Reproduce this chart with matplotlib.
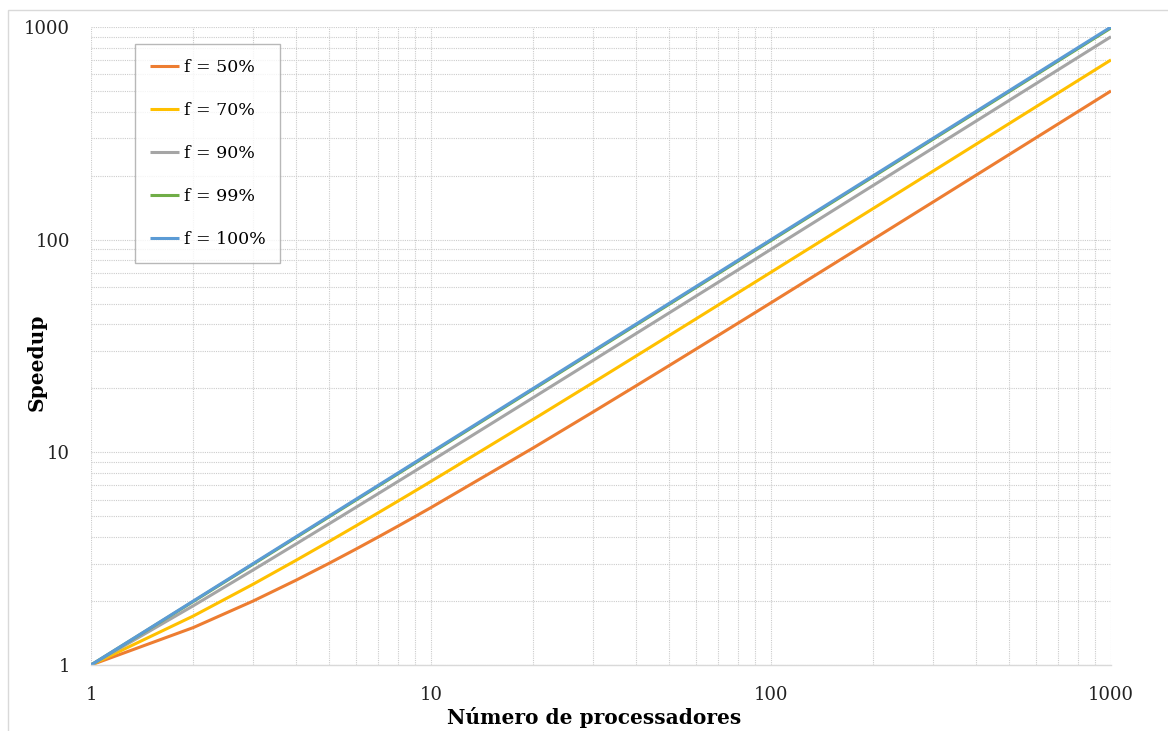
import matplotlib
matplotlib.use("Agg")
import matplotlib.pyplot as plt
from matplotlib.patches import Rectangle
from matplotlib.ticker import LogLocator, NullFormatter, FixedLocator, FixedFormatter

# Number of processors
processors = [1, 2, 3, 4, 5, 6, 7, 8, 9, 10,
              20, 30, 40, 50, 60, 70, 80, 90, 100,
              200, 300, 400, 500, 600, 700, 800, 900, 1000]

# Scaled speedup for each parallel fraction f
speedup_50 = [1, 1.5, 2, 2.5, 3, 3.5, 4, 4.5, 5, 5.5,
              10.5, 15.5, 20.5, 25.5, 30.5, 35.5, 40.5, 45.5, 50.5,
              100.5, 150.5, 200.5, 250.5, 300.5, 350.5, 400.5, 450.5, 500.5]
speedup_70 = [1, 1.7, 2.4, 3.1, 3.8, 4.5, 5.2, 5.9, 6.6, 7.3,
              14.3, 21.3, 28.3, 35.3, 42.3, 49.3, 56.3, 63.3, 70.3,
              140.3, 210.3, 280.3, 350.3, 420.3, 490.3, 560.3, 630.3, 700.3]
speedup_90 = [1, 1.9, 2.8, 3.7, 4.6, 5.5, 6.4, 7.3, 8.2, 9.1,
              18.1, 27.1, 36.1, 45.1, 54.1, 63.1, 72.1, 81.1, 90.1,
              180.1, 270.1, 360.1, 450.1, 540.1, 630.1, 720.1, 810.1, 900.1]
speedup_99 = [1, 1.99, 2.98, 3.97, 4.96, 5.95, 6.94, 7.93, 8.92, 9.91,
              19.81, 29.71, 39.61, 49.51, 59.41, 69.31, 79.21, 89.11, 99.01,
              198.01, 297.01, 396.01, 495.01, 594.01, 693.01, 792.01, 891.01, 990.01]
speedup_100 = [1, 2, 3, 4, 5, 6, 7, 8, 9, 10,
               20, 30, 40, 50, 60, 70, 80, 90, 100,
               200, 300, 400, 500, 600, 700, 800, 900, 1000]

series_labels = ["f = 50%", "f = 70%", "f = 90%", "f = 99%", "f = 100%"]
series_colors = ["#ED7D31", "#FFC000", "#A5A5A5", "#70AD47", "#5B9BD5"]
decade_ticks = [1, 10, 100, 1000]
decade_labels = ["1", "10", "100", "1000"]

plt.rcParams["font.family"] = ["DejaVu Serif"]

fig = plt.figure(figsize=(11.68, 7.31), dpi=100)
fig.patches.append(Rectangle((8 / 1168, -0.05), 1.2, 1 - 10 / 731 + 0.05,
                             transform=fig.transFigure, fill=False,
                             edgecolor="#d9d9d9", linewidth=1.0))

ax = fig.add_axes([91 / 1168, 1 - 665 / 731, 1020 / 1168, 638 / 731])

all_series = [speedup_50, speedup_70, speedup_90, speedup_99, speedup_100]
for ys, lab, col in zip(all_series, series_labels, series_colors):
    ax.plot(processors, ys, color=col, linewidth=2.2, label=lab,
            solid_capstyle="butt")

ax.set_xscale("log")
ax.set_yscale("log")
ax.set_xlim(1, 1000)
ax.set_ylim(1, 1000)

for axis in (ax.xaxis, ax.yaxis):
    axis.set_major_locator(FixedLocator(decade_ticks))
    axis.set_major_formatter(FixedFormatter(decade_labels))
    axis.set_minor_locator(LogLocator(base=10, subs=range(2, 10)))
    axis.set_minor_formatter(NullFormatter())

ax.grid(True, which="both", linestyle=(0, (1, 1)), color="#cccccc", linewidth=0.8)
ax.set_axisbelow(True)
ax.tick_params(which="both", length=0, labelsize=13, colors="#222222")
ax.tick_params(axis="x", pad=15)
ax.tick_params(axis="y", pad=15)

for side in ("top", "right", "left"):
    ax.spines[side].set_visible(False)
ax.spines["bottom"].set_color("#d9d9d9")
ax.spines["bottom"].set_linewidth(1.0)

ax.set_xlabel("Número de processadores", fontsize=14.5, fontweight="bold", va="center")
ax.xaxis.set_label_coords((594 - 91) / 1020, (665 - 717) / 638)
ax.set_ylabel("Speedup", fontsize=14.5, fontweight="bold", va="center")
ax.yaxis.set_label_coords((37 - 91) / 1020, (665 - 362) / 638)

leg = ax.legend(loc="upper left", bbox_to_anchor=((135 - 91) / 1020, (665 - 44) / 638),
                borderaxespad=0, fancybox=False, frameon=True, fontsize=12.5,
                handlelength=1.7, handletextpad=0.25, labelspacing=1.5,
                borderpad=0.85, edgecolor="#a6a6a6")
leg.get_frame().set_linewidth(1.0)

fig.savefig("out.png", dpi=100, facecolor="white")
